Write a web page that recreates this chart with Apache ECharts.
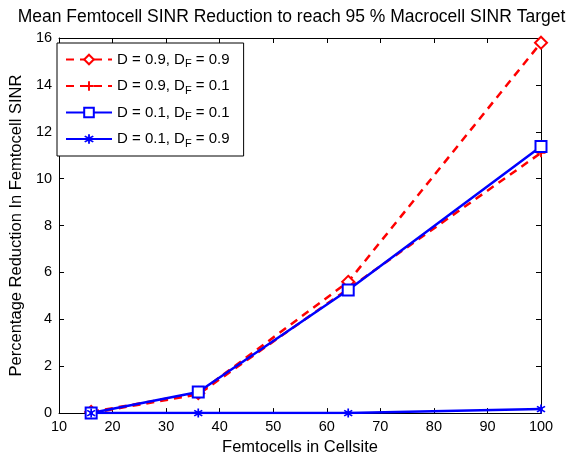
<!DOCTYPE html>
<html>
<head>
<meta charset="utf-8">
<script src="https://cdn.jsdelivr.net/npm/echarts@6/dist/echarts.min.js"></script>
<style>
  html, body { margin: 0; padding: 0; background: #fff; }
  #chart { width: 583px; height: 461px; }
</style>
</head>
<body>
<div id="chart"></div>
<script>
// Number of femtocells per cellsite
const femtocells = [16, 36, 64, 100];

// Mean percentage SINR reduction for each (D, D_F) setting
const d09_df09 = [0.05, 0.85, 5.6, 15.8];
const d09_df01 = [0.0, 0.8, 5.3, 11.1];
const d01_df01 = [0.0, 0.9, 5.25, 11.37];
const d01_df09 = [0.0, 0.0, 0.0, 0.17];

const xTicks = { min: 10, max: 100, interval: 10 };
const yTicks = { min: 0, max: 16, interval: 2 };

const seriesNames = [
  'D = 0.9, {sub|F} = 0.9',
  'D = 0.9, {sub|F} = 0.1',
  'D = 0.1, {sub|F} = 0.1',
  'D = 0.1, {sub|F} = 0.9'
];

const RED = '#ff0000';
const BLUE = '#0000ff';
const FONT = 'Liberation Sans, Arial, sans-serif';

const plusPath = 'path://M4,0 L6,0 L6,4 L10,4 L10,6 L6,6 L6,10 L4,10 L4,6 L0,6 L0,4 L4,4 Z';
const starPath = 'path://M4.2,0 L5.8,0 L5.8,3 L8.3,1.3 L9.2,2.6 L6.7,4.2 L6.7,5.8 L9.2,7.4 L8.3,8.7 L5.8,7 L5.8,10 L4.2,10 L4.2,7 L1.7,8.7 L0.8,7.4 L3.3,5.8 L3.3,4.2 L0.8,2.6 L1.7,1.3 L4.2,3 Z';

function pairs(ys) { return femtocells.map((x, i) => [x, ys[i]]); }

const chart = echarts.init(document.getElementById('chart'), null, { renderer: 'canvas' });

const grid = { left: 56, right: 42, top: 38, bottom: 42 };

function axisCommon(showLabels, margin) {
  return {
    axisLine: { show: true, onZero: false, lineStyle: { color: '#000', width: 1 } },
    axisTick: { show: true, inside: true, length: 5, lineStyle: { color: '#000' } },
    splitLine: { show: false },
    axisLabel: { show: showLabels, color: '#000', fontSize: 14.5, fontFamily: FONT, margin: margin }
  };
}

chart.setOption({
  animation: false,
  backgroundColor: '#fff',
  textStyle: { fontFamily: FONT },
  title: {
    text: 'Mean Femtocell SINR Reduction to reach 95 % Macrocell SINR Target',
    left: 'center',
    top: 3,
    textStyle: { fontSize: 17.5, fontWeight: 'normal', color: '#000', fontFamily: FONT }
  },
  grid: grid,
  legend: {
    orient: 'vertical',
    left: 57,
    top: 43,
    itemWidth: 46,
    itemHeight: 12,
    itemGap: 9,
    padding: [9, 14, 7, 8],
    borderColor: '#000',
    borderWidth: 1,
    backgroundColor: '#fff',
    data: seriesNames,
    formatter: function (name) { return name.replace('{sub|F}', 'D{sub|F}'); },
    textStyle: {
      fontSize: 15,
      color: '#000',
      fontFamily: FONT,
      rich: { sub: { fontSize: 11, verticalAlign: 'bottom', padding: [9, 0, 0, 0], fontFamily: FONT } }
    }
  },
  xAxis: [
    Object.assign({
      type: 'value', position: 'bottom',
      min: xTicks.min, max: xTicks.max, interval: xTicks.interval,
      name: 'Femtocells in Cellsite', nameLocation: 'middle', nameGap: 23,
      nameTextStyle: { fontSize: 16.5, color: '#000', fontFamily: FONT }
    }, axisCommon(true, 6)),
    Object.assign({
      type: 'value', position: 'top',
      min: xTicks.min, max: xTicks.max, interval: xTicks.interval
    }, axisCommon(false, 6))
  ],
  yAxis: [
    Object.assign({
      type: 'value', position: 'left',
      min: yTicks.min, max: yTicks.max, interval: yTicks.interval,
      name: 'Percentage Reduction In Femtocell SINR', nameLocation: 'middle', nameGap: 30,
      nameTextStyle: { fontSize: 16.5, color: '#000', fontFamily: FONT }
    }, axisCommon(true, 7)),
    Object.assign({
      type: 'value', position: 'right',
      min: yTicks.min, max: yTicks.max, interval: yTicks.interval
    }, axisCommon(false, 7))
  ],
  series: [
    {
      name: seriesNames[0], type: 'line', data: pairs(d09_df09),
      symbol: 'diamond', symbolSize: 12, showAllSymbol: true,
      lineStyle: { color: RED, width: 2.5, type: [8, 6] },
      itemStyle: { color: '#fff', borderColor: RED, borderWidth: 2 },
      z: 2
    },
    {
      name: seriesNames[1], type: 'line', data: pairs(d09_df01),
      symbol: plusPath, symbolSize: 9,
      lineStyle: { color: RED, width: 2.5, type: [8, 6] },
      itemStyle: { color: RED, borderWidth: 0 },
      z: 2
    },
    {
      name: seriesNames[2], type: 'line', data: pairs(d01_df01),
      symbol: 'rect', symbolSize: 11,
      lineStyle: { color: BLUE, width: 2.5 },
      itemStyle: { color: '#fff', borderColor: BLUE, borderWidth: 2 },
      z: 3
    },
    {
      name: seriesNames[3], type: 'line', data: pairs(d01_df09),
      symbol: starPath, symbolSize: 9,
      lineStyle: { color: BLUE, width: 2.5 },
      itemStyle: { color: BLUE, borderWidth: 0 },
      z: 3
    }
  ]
});
</script>
</body>
</html>
